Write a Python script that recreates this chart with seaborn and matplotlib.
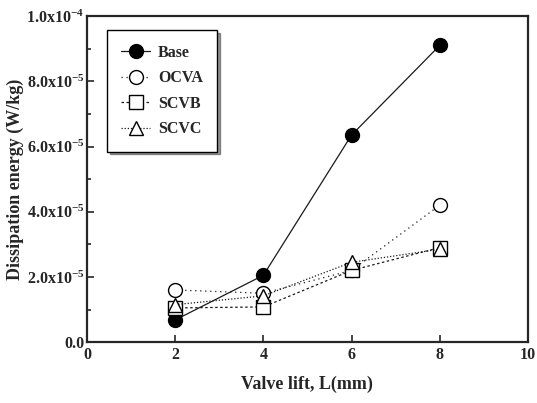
import pandas as pd
import matplotlib
matplotlib.use("Agg")
import matplotlib.pyplot as plt
import seaborn as sns
from matplotlib.ticker import MultipleLocator, FixedLocator

# dados
lift = [2, 4, 6, 8]
base = [0.68e-5, 2.05e-5, 6.35e-5, 9.1e-5]
ocva = [1.6e-5, 1.5e-5, 2.2e-5, 4.2e-5]
scvb = [1.05e-5, 1.08e-5, 2.2e-5, 2.9e-5]
scvc = [1.15e-5, 1.42e-5, 2.45e-5, 2.85e-5]

series = ['Base', 'OCVA', 'SCVB', 'SCVC']
yticks = [0, 2e-5, 4e-5, 6e-5, 8e-5, 1e-4]
ytick_labels = ['0.0', r'2.0x10$^{-5}$', r'4.0x10$^{-5}$', r'6.0x10$^{-5}$',
                r'8.0x10$^{-5}$', r'1.0x10$^{-4}$']

df = pd.DataFrame({'L': lift * 4,
                   'E': base + ocva + scvb + scvc,
                   'serie': [s for s in series for _ in lift]})

sns.set_style('ticks')
plt.rcParams['font.family'] = ['Liberation Serif', 'DejaVu Serif']
plt.rcParams['font.weight'] = 'bold'
plt.rcParams['mathtext.fontset'] = 'custom'
plt.rcParams['mathtext.rm'] = 'Liberation Serif:bold'
plt.rcParams['mathtext.it'] = 'Liberation Serif:bold'
plt.rcParams['mathtext.bf'] = 'Liberation Serif:bold'

fig = plt.figure(figsize=(5.37, 4.03), dpi=100)
ax = fig.add_axes([0.162, 0.151, 0.821, 0.809])

estilos = {
    'Base': dict(marker='o', linestyle='-', mfc='black'),
    'OCVA': dict(marker='o', linestyle=(0, (1, 3)), mfc='white'),
    'SCVB': dict(marker='s', linestyle=(0, (2, 2)), mfc='white'),
    'SCVC': dict(marker='^', linestyle=(0, (1, 1.5)), mfc='white'),
}

for s in series:
    st = estilos[s]
    sns.lineplot(data=df[df['serie'] == s], x='L', y='E', ax=ax, label=s,
                 color='#1a1a1a', marker=st['marker'], linestyle=st['linestyle'],
                 linewidth=0.9, markersize=10, markerfacecolor=st['mfc'],
                 markeredgecolor='black', markeredgewidth=1.0)

ax.set_xlim(0, 10)
ax.set_ylim(0, 1e-4)
ax.xaxis.set_major_locator(MultipleLocator(2))
ax.yaxis.set_major_locator(FixedLocator(yticks))
ax.yaxis.set_minor_locator(MultipleLocator(1e-5))
ax.set_yticklabels(ytick_labels)
ax.tick_params(which='both', direction='in', labelsize=11.5, width=1.2)
ax.tick_params(axis='y', pad=2)
ax.tick_params(which='major', length=5)
ax.tick_params(which='minor', length=3)
for sp in ax.spines.values():
    sp.set_linewidth(1.6)
    sp.set_visible(True)

ax.set_xlabel('Valve lift, L(mm)', fontsize=13, fontweight='bold', labelpad=9)
ax.set_ylabel('Dissipation energy (W/kg)', fontsize=13, fontweight='bold')
ax.yaxis.set_label_coords(-0.142, 0.5)

leg = ax.legend(loc='upper left', bbox_to_anchor=(0.045, 0.957), fontsize=11.5,
                frameon=True, fancybox=False, shadow={'color': '#333333'},
                handlelength=1.8, handletextpad=0.5, borderpad=0.9,
                labelspacing=0.6, borderaxespad=0)
leg.get_frame().set_edgecolor('black')
leg.get_frame().set_linewidth(1.0)

plt.savefig('out.png', dpi=100)
